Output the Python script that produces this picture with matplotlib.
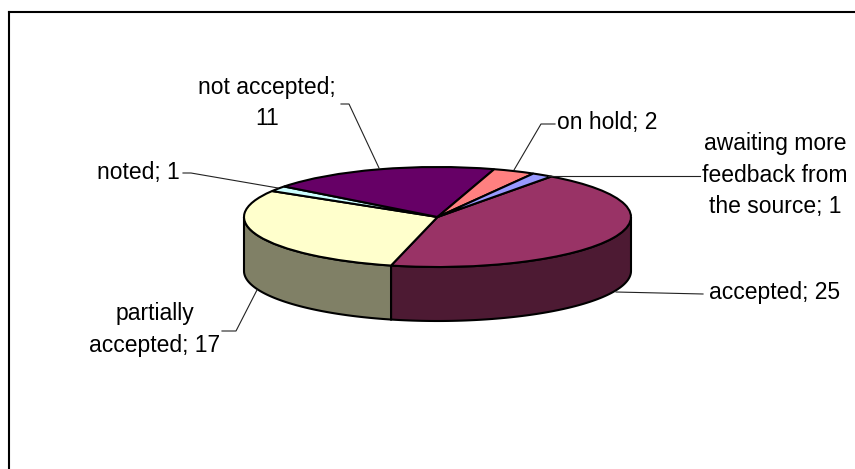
import matplotlib
matplotlib.use("Agg")
import matplotlib.pyplot as plt
import numpy as np

names = ["accepted", "partially accepted", "noted", "not accepted", "on hold", "awaiting more feedback from the source"]
values = [25, 17, 1, 11, 2, 1]
top_colors = ["#993366", "#FFFFCC", "#CCFFFF", "#660066", "#FF8080", "#9999FF"]
side_colors = ["#4D1A33", "#808066", "#668080", "#330033", "#804040", "#4D4D80"]

# label text split the way the chart wraps it
label_lines = [
    ["accepted; 25"],
    ["partially", "accepted; 17"],
    ["noted; 1"],
    ["not accepted;", "11"],
    ["on hold; 2"],
    ["awaiting more", "feedback from", "the source; 1"],
]

W, H = 855, 469
START = 54
DEPTH = 1.08

plt.rcParams["font.family"] = ["Liberation Sans", "DejaVu Sans"]

fig = plt.figure(figsize=(W / 100, H / 100), dpi=100)
fig.patch.set_facecolor("white")

# overlay in pixel coords for frame, labels and leaders
ov = fig.add_axes([0, 0, 1, 1], zorder=2)
ov.set_xlim(0, W)
ov.set_ylim(H, 0)
ov.axis("off")
ov.patch.set_alpha(0)

# pie body, x -1..1, y from -1-DEPTH to 1
ax = fig.add_axes([244 / W, 1 - 321 / H, 387 / W, 154 / H], zorder=1)

ax.pie(values, colors=top_colors, startangle=START, counterclock=False, radius=1,
       wedgeprops={"edgecolor": "black", "linewidth": 1.5}, normalize=True)
ax.set_aspect("auto")
ax.set_xlim(-1, 1)
ax.set_ylim(-1 - DEPTH, 1)

# side wall only on the front half
edges = START - np.cumsum([0] + values) * 360 / sum(values)
for i in range(len(values)):
    a1, a2 = edges[i + 1], edges[i]
    for lo, hi in [(-180, 0), (-540, -360)]:
        t1, t2 = max(a1, lo), min(a2, hi)
        if t2 <= t1:
            continue
        t = np.radians(np.linspace(t1, t2, 80))
        x = np.cos(t)
        y = np.sin(t)
        ax.fill(np.r_[x, x[::-1]], np.r_[y, y[::-1] - DEPTH], facecolor=side_colors[i],
                edgecolor="black", linewidth=1.5, clip_on=False, zorder=0.5)

# frame, bottom and right run off the picture
ov.plot([9, 9], [H, 12], color="black", lw=1.5, clip_on=False)
ov.plot([9, W], [12, 12], color="black", lw=1.5, clip_on=False)

leaders = [
    ([703, 616], [294, 292]),
    ([222, 236, 257], [331, 331, 290]),
    ([183, 191, 278], [173, 173, 188]),
    ([341, 349, 379], [104, 104, 168]),
    ([555, 541, 514], [124, 124, 170]),
    ([700, 548], [176, 176]),
]
for lx, ly in leaders:
    ov.plot(lx, ly, color="#222222", lw=0.8)

label_pos = [(775, 292), (155, 329.5), (138, 173), (267, 103), (607, 123), (775, 175)]
for lines, (px, py) in zip(label_lines, label_pos):
    ov.text(px, py, "\n".join(lines), ha="center", va="center", multialignment="center",
            fontsize=16.5, linespacing=1.45, color="black")

fig.savefig("out.png", dpi=100)
